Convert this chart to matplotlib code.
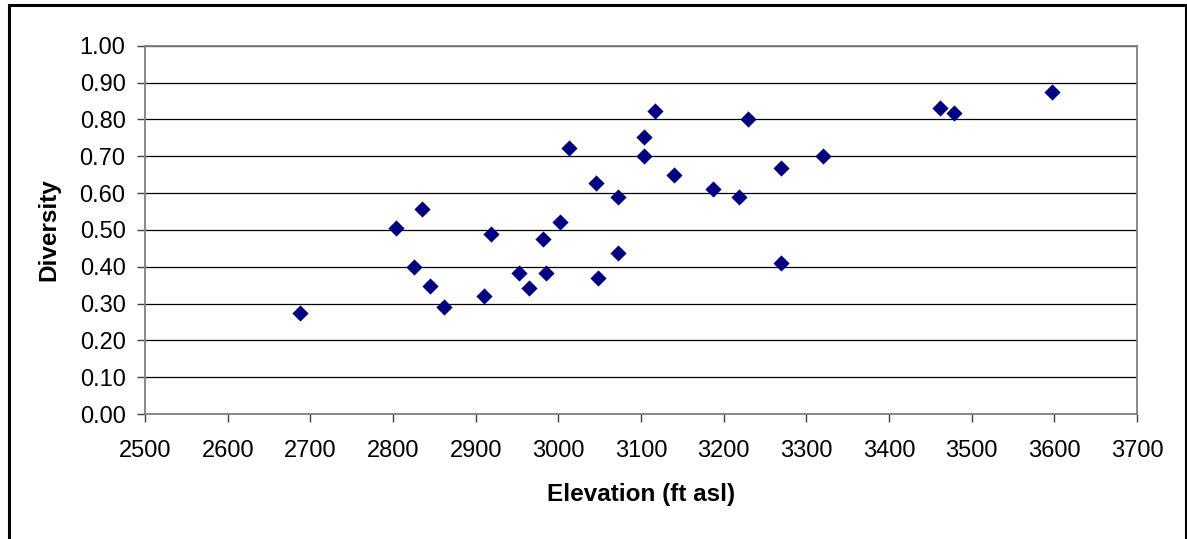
import matplotlib
matplotlib.use("Agg")
import matplotlib.pyplot as plt
from matplotlib.patches import Rectangle

plt.rcParams['font.family'] = ['Liberation Sans', 'DejaVu Sans']

# data
elevation = [2687, 2804, 2835, 2825, 2845, 2861, 2910, 2919, 2952, 2964,
             2981, 2985, 3002, 3013, 3046, 3048, 3072, 3072, 3103, 3104,
             3117, 3140, 3187, 3219, 3229, 3269, 3269, 3320, 3461, 3478,
             3597]
diversity = [0.274, 0.505, 0.557, 0.400, 0.348, 0.290, 0.321, 0.490, 0.384, 0.343,
             0.475, 0.384, 0.521, 0.722, 0.627, 0.369, 0.589, 0.437, 0.700, 0.753,
             0.822, 0.648, 0.611, 0.589, 0.801, 0.669, 0.411, 0.700, 0.832, 0.816,
             0.873]
x_ticks = list(range(2500, 3701, 100))
y_ticks = [i / 10 for i in range(11)]

fig = plt.figure(figsize=(11.87, 5.39), dpi=100)
ax = fig.add_axes([0.1222, 0.2319, 0.8358, 0.6833])

# outer chart border
fig.patches.append(Rectangle((0.0072, -0.02), 0.9918, 1.011, transform=fig.transFigure,
                             fill=False, edgecolor='black', linewidth=2.2))

ax.scatter(elevation, diversity, marker='D', s=68, color='#000080', zorder=3, linewidths=0)

ax.set_xlim(2500, 3700)
ax.set_ylim(0, 1)
ax.set_xticks(x_ticks)
ax.set_yticks(y_ticks)
ax.set_yticklabels([f"{v:.2f}" for v in y_ticks])
ax.yaxis.grid(True, color='black', linewidth=0.9)
ax.set_axisbelow(True)

for s in ax.spines.values():
    s.set_color('#808080')
    s.set_linewidth(1.3)

ax.tick_params(axis='both', direction='out', length=6, width=1, color='#404040',
               labelsize=17, colors='black')
ax.tick_params(axis='x', pad=13)
ax.tick_params(axis='y', pad=8)

ax.set_xlabel("Elevation (ft asl)", fontsize=17.5, fontweight='bold', labelpad=15)
ax.set_ylabel("Diversity", fontsize=17.5, fontweight='bold', labelpad=14)

fig.savefig("out.png", dpi=100)
